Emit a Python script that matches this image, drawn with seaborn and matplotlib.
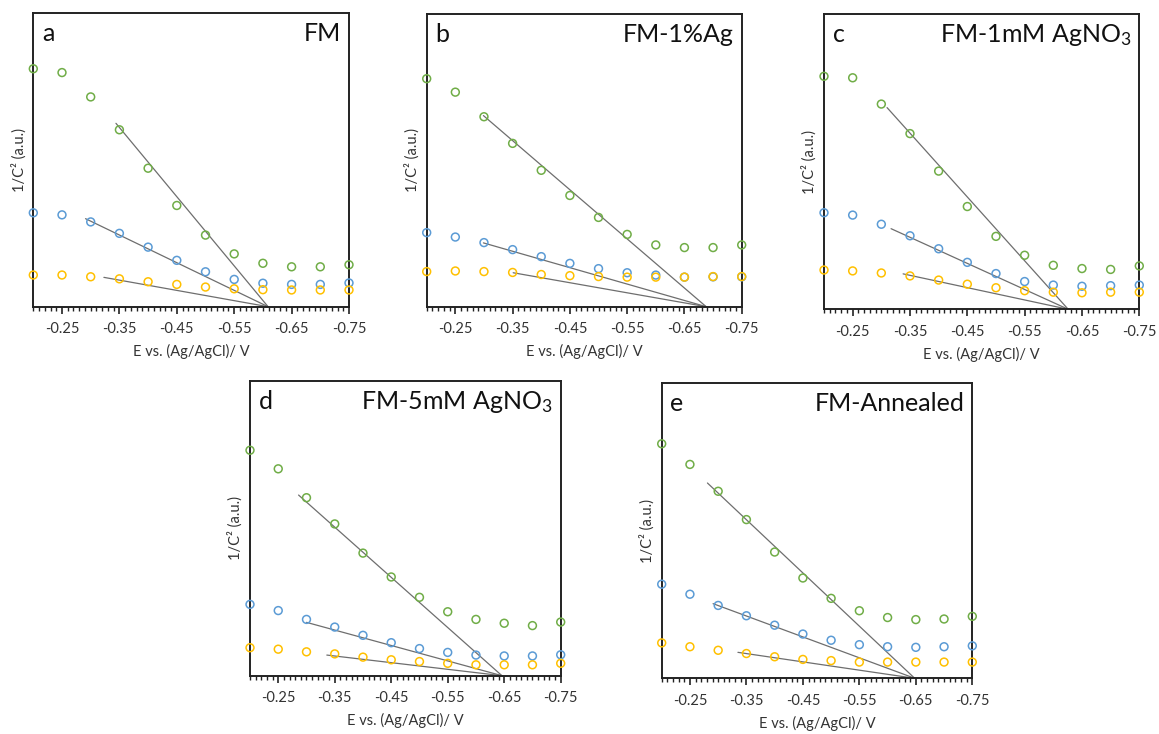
import numpy as np
import pandas as pd
import matplotlib
matplotlib.use('Agg')
import matplotlib.pyplot as plt
from matplotlib.ticker import FixedLocator, MultipleLocator
import seaborn as sns

# Potential (V vs Ag/AgCl) - same sweep for every sample
E = [-0.20, -0.25, -0.30, -0.35, -0.40, -0.45, -0.50, -0.55, -0.60, -0.65, -0.70, -0.75]

# 1/C^2 values (arbitrary units)
fm_green = [81.1, 79.8, 71.5, 60.3, 47.2, 34.5, 24.4, 18.0, 14.8, 13.6, 13.6, 14.3]
fm_blue = [32.0, 31.3, 28.9, 25.0, 20.3, 15.8, 11.9, 9.3, 8.0, 7.6, 7.6, 8.1]
fm_yellow = [10.8, 10.8, 10.2, 9.5, 8.5, 7.6, 6.7, 6.1, 5.8, 5.7, 5.7, 5.7]

ag1_green = [77.9, 73.3, 64.9, 55.8, 46.6, 38.0, 30.5, 24.7, 21.1, 20.2, 20.2, 21.1]
ag1_blue = [25.3, 23.8, 21.9, 19.5, 17.1, 14.8, 13.0, 11.6, 10.8, 10.1, 10.2, 10.2]
ag1_yellow = [12.0, 12.2, 12.0, 11.7, 11.0, 10.6, 10.3, 10.1, 10.1, 10.1, 10.3, 10.3]

mm1_green = [78.9, 78.4, 69.5, 59.5, 46.8, 34.8, 24.7, 18.3, 14.9, 13.8, 13.5, 14.7]
mm1_blue = [32.7, 31.9, 28.8, 24.9, 20.5, 15.9, 12.1, 9.4, 8.2, 7.8, 8.0, 8.2]
mm1_yellow = [13.3, 13.0, 12.3, 11.3, 9.9, 8.5, 7.3, 6.3, 5.8, 5.6, 5.8, 5.8]

mm5_green = [76.5, 70.2, 60.4, 51.5, 41.6, 33.5, 26.6, 21.7, 19.1, 17.8, 17.0, 18.2]
mm5_blue = [24.2, 22.1, 19.1, 16.5, 13.7, 11.2, 9.2, 7.9, 7.0, 6.7, 6.7, 7.1]
mm5_yellow = [9.5, 9.0, 8.1, 7.4, 6.3, 5.4, 4.8, 4.2, 3.7, 3.7, 3.7, 4.2]

ann_green = [79.5, 72.5, 63.4, 53.8, 42.8, 34.0, 27.1, 22.9, 20.6, 19.9, 20.1, 21.0]
ann_blue = [31.9, 28.5, 24.7, 21.2, 18.0, 15.0, 12.9, 11.4, 10.7, 10.5, 10.7, 11.0]
ann_yellow = [12.0, 10.7, 9.5, 8.4, 7.3, 6.4, 6.0, 5.5, 5.5, 5.5, 5.5, 5.5]

# Mott-Schottky fit lines: start point (green, blue, yellow) and flat-band potential
fm_fit_x = [-0.344, -0.291, -0.323]
fm_fit_y = [62.5, 30.0, 10.0]
fm_vfb = -0.609
ag1_fit_x = [-0.299, -0.299, -0.351]
ag1_fit_y = [65.3, 21.8, 11.6]
ag1_vfb = -0.688
mm1_fit_x = [-0.310, -0.317, -0.338]
mm1_fit_y = [68.3, 27.3, 12.0]
mm1_vfb = -0.626
mm5_fit_x = [-0.286, -0.300, -0.336]
mm5_fit_y = [61.3, 18.1, 7.0]
mm5_vfb = -0.646
ann_fit_x = [-0.281, -0.291, -0.335]
ann_fit_y = [66.2, 25.3, 8.8]
ann_vfb = -0.648

letters = ['a', 'b', 'c', 'd', 'e']
titles = ['FM', 'FM-1%Ag', 'FM-1mM AgNO$_3$', 'FM-5mM AgNO$_3$', 'FM-Annealed']
tick_labels = ['-0.25', '-0.35', '-0.45', '-0.55', '-0.65', '-0.75']
tick_values = [-0.25, -0.35, -0.45, -0.55, -0.65, -0.75]

series_names = ['green', 'blue', 'yellow']
palette = {'green': '#70AD47', 'blue': '#5B9BD5', 'yellow': '#FFC000'}

panels = [
    ([fm_green, fm_blue, fm_yellow], fm_fit_x, fm_fit_y, fm_vfb),
    ([ag1_green, ag1_blue, ag1_yellow], ag1_fit_x, ag1_fit_y, ag1_vfb),
    ([mm1_green, mm1_blue, mm1_yellow], mm1_fit_x, mm1_fit_y, mm1_vfb),
    ([mm5_green, mm5_blue, mm5_yellow], mm5_fit_x, mm5_fit_y, mm5_vfb),
    ([ann_green, ann_blue, ann_yellow], ann_fit_x, ann_fit_y, ann_vfb),
]

sns.set_style('white')
plt.rcParams['font.family'] = ['Lato', 'DejaVu Sans']
plt.rcParams['mathtext.fontset'] = 'custom'
plt.rcParams['mathtext.rm'] = 'Lato'
plt.rcParams['mathtext.it'] = 'Lato:italic'

W, H = 1159, 734
fig = plt.figure(figsize=(W / 100, H / 100), dpi=100)

# axes boxes in pixels: left, top, right, bottom
boxes = [
    (33.3, 13.3, 349.0, 306.7),
    (426.7, 14.0, 741.7, 306.7),
    (824.0, 14.0, 1139.3, 309.3),
    (250.0, 381.0, 560.7, 675.7),
    (661.7, 383.3, 972.3, 678.3),
]

for i, (series, fx, fy, vfb) in enumerate(panels):
    l, t, r, b = boxes[i]
    ax = fig.add_axes([l / W, 1 - b / H, (r - l) / W, (b - t) / H])

    df = pd.DataFrame({
        'E': E * 3,
        'invC2': series[0] + series[1] + series[2],
        'series': [n for n in series_names for _ in E],
    })
    sns.scatterplot(data=df, x='E', y='invC2', hue='series', palette=palette,
                    marker='o', s=32, linewidth=1.1,
                    legend=False, ax=ax, clip_on=False, zorder=3)
    # seaborn fills hue colour; switch to open circles
    coll = ax.collections[0]
    coll.set_edgecolors([palette[n] for n in series_names for _ in E])
    coll.set_facecolors('none')

    for k in range(3):
        ax.plot([fx[k], vfb], [fy[k], 0], color='#6E6E6E', lw=0.9, zorder=2)

    ax.set_xlim(-0.2, -0.75)
    ax.set_ylim(0, 100)
    ax.xaxis.set_major_locator(FixedLocator(tick_values))
    ax.set_xticklabels(tick_labels)
    ax.xaxis.set_minor_locator(MultipleLocator(0.01))
    ax.tick_params(axis='x', which='major', direction='out', length=5, width=1.2,
                   color='#222222', labelsize=10.5, labelcolor='#333333', pad=6, bottom=True)
    ax.tick_params(axis='x', which='minor', direction='out', length=3, width=1.0,
                   color='#222222', bottom=True)
    ax.set_yticks([])
    for sp in ax.spines.values():
        sp.set_visible(True)
        sp.set_color('#222222')
        sp.set_linewidth(1.4)

    ax.set_xlabel('E vs. (Ag/AgCl)/ V', fontsize=10.5, color='#333333', labelpad=6)
    ax.set_ylabel('1/C² (a.u.)', fontsize=10.5, color='#333333', labelpad=5)

    ax.text(0.028, 0.93, letters[i], transform=ax.transAxes, fontsize=18,
            ha='left', va='center', color='#111111')
    ax.text(0.975, 0.93, titles[i], transform=ax.transAxes, fontsize=18,
            ha='right', va='center', color='#111111')

fig.savefig('out.png', dpi=100)
